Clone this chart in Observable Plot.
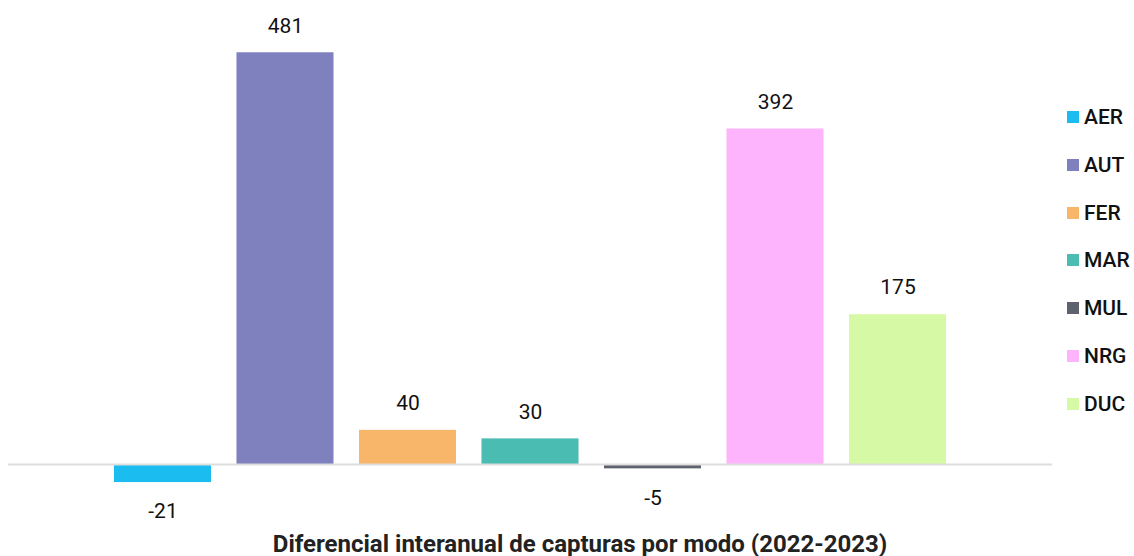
<!DOCTYPE html>
<html>
<head>
<meta charset="utf-8">
<script src="https://cdn.jsdelivr.net/npm/d3@7"></script>
<script src="https://cdn.jsdelivr.net/npm/@observablehq/plot@0.6"></script>
<style>
  html, body { margin: 0; padding: 0; background: #fff; }
  #wrap { position: relative; width: 1134px; height: 556px; font-family: Roboto, "Noto Sans", sans-serif; }
  #legend { position: absolute; left: 1067px; top: 93px; }
  .item { display: flex; align-items: center; height: 47.83px; font-size: 21px; font-weight: 500; color: #111; }
  .sw { width: 12px; height: 12px; margin-right: 5px; }
  #title { position: absolute; left: 0; width: 1160px; top: 531px; text-align: center; font-size: 24px; font-weight: bold; color: #222; line-height: 26px; }
</style>
</head>
<body>
<div id="wrap">
  <div id="chart"></div>
  <div id="legend"></div>
  <div id="title">Diferencial interanual de capturas por modo (2022-2023)</div>
</div>
<script>
const categories = ["AER", "AUT", "FER", "MAR", "MUL", "NRG", "DUC"];
const values = [-21, 481, 40, 30, -5, 392, 175];
const colors = ["#1bbdf0", "#7f81bf", "#f7b669", "#4bbcb1", "#5e626e", "#fdb4fc", "#d6f9a5"];

const data = categories.map((c, i) => ({cat: c, value: values[i]}));

const chart = Plot.plot({
  width: 1134,
  height: 530,
  marginLeft: 8,
  marginRight: 82,
  marginTop: 36,
  marginBottom: 0,
  style: {fontFamily: "Roboto, 'Noto Sans', sans-serif", background: "transparent"},
  x: {domain: categories, paddingInner: 0.208, paddingOuter: 0.865, round: false, axis: null},
  y: {domain: [-77, 500], axis: null},
  color: {domain: categories, range: colors},
  marks: [
    Plot.barY(data, {x: "cat", y: "value", fill: "cat"}),
    Plot.ruleY([0], {stroke: "#dddddd", strokeWidth: 2}),
    Plot.text(data.filter(d => d.value >= 0), {x: "cat", y: "value", text: d => String(d.value), dy: -27, fontSize: 21, fontWeight: 400, fill: "#111"}),
    Plot.text(data.filter(d => d.value < 0), {x: "cat", y: "value", text: d => String(d.value), dy: 29, fontSize: 21, fontWeight: 400, fill: "#111"})
  ]
});
document.getElementById("chart").appendChild(chart);

const legend = document.getElementById("legend");
categories.forEach((c, i) => {
  const item = document.createElement("div");
  item.className = "item";
  item.innerHTML = `<span class="sw" style="background:${colors[i]}"></span><span>${c}</span>`;
  legend.appendChild(item);
});
</script>
</body>
</html>
